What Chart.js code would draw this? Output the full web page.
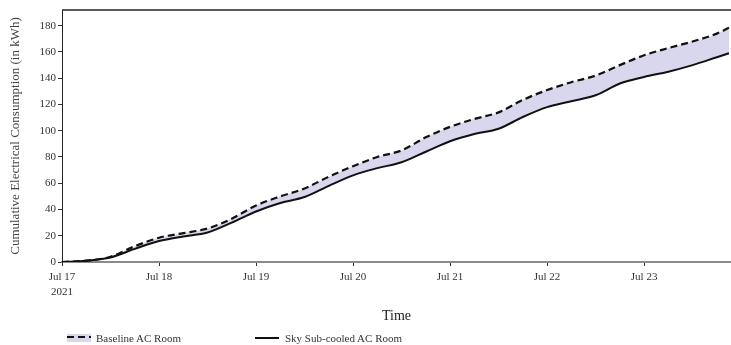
<!DOCTYPE html>
<html>
<head>
<meta charset="utf-8">
<script src="https://cdn.jsdelivr.net/npm/chart.js@4.4.1/dist/chart.umd.min.js"></script>
<style>
  html, body { margin: 0; padding: 0; background: #fff; }
  #wrap { position: relative; width: 731px; height: 345px; }
  #legend { position: absolute; left: 0; top: 330px; font: 11px "Liberation Serif", "DejaVu Serif", serif; color: #333; }
  .item { position: absolute; top: 0; white-space: nowrap; line-height: 16px; }
  .sym { position: absolute; top: 4px; width: 24px; height: 8px; }
</style>
</head>
<body>
<div id="wrap">
  <canvas id="chart" width="731" height="345"></canvas>
  <div id="legend">
    <div class="item" style="left:67px">
      <canvas class="sym" id="symBase" width="24" height="8"></canvas>
      <span style="position:absolute;left:29px">Baseline AC Room</span>
    </div>
    <div class="item" style="left:255px">
      <canvas class="sym" id="symSky" width="26" height="8"></canvas>
      <span style="position:absolute;left:30px">Sky Sub-cooled AC Room</span>
    </div>
  </div>
</div>
<script>
// hours since Jul 17 00:00
const hours = [0, 6, 12, 18, 24, 30, 36, 42, 48, 54, 60, 66, 72, 78, 84, 90, 96, 102, 108, 114, 120, 126, 132, 138, 144, 150, 156, 162, 165];
const baseline = [0, 1, 4, 12, 18.5, 22, 25.5, 33, 43, 50, 56, 65, 73, 80, 85, 95, 103, 109, 114, 123.5, 131, 137, 142, 150, 157.5, 163, 168, 174, 178.5];
const skyCooled = [0, 1, 3.5, 10, 16, 19.5, 22.5, 30, 38.5, 45, 49.5, 58, 66, 71.5, 76, 84, 92, 97.5, 101.5, 110.5, 118, 122.5, 127, 136, 141, 145, 150, 156, 159];
const dayLabels = ['Jul 17', 'Jul 18', 'Jul 19', 'Jul 20', 'Jul 21', 'Jul 22', 'Jul 23'];

const serif = '"Liberation Serif", "DejaVu Serif", serif';
const bandColor = '#d9d7ed';

const topBorder = {
  id: 'topBorder',
  afterDraw(chart) {
    const { ctx, chartArea } = chart;
    ctx.save();
    ctx.strokeStyle = '#222';
    ctx.lineWidth = 1.5;
    ctx.beginPath();
    ctx.moveTo(chartArea.left, chartArea.top);
    ctx.lineTo(chartArea.right, chartArea.top);
    ctx.stroke();
    ctx.restore();
  }
};

new Chart(document.getElementById('chart'), {
  type: 'line',
  data: {
    datasets: [
      {
        label: 'Baseline AC Room',
        data: hours.map((h, i) => ({ x: h, y: baseline[i] })),
        borderColor: '#111',
        borderWidth: 2.2,
        borderDash: [7, 4],
        backgroundColor: bandColor,
        fill: '+1',
        pointRadius: 0,
        cubicInterpolationMode: 'monotone'
      },
      {
        label: 'Sky Sub-cooled AC Room',
        data: hours.map((h, i) => ({ x: h, y: skyCooled[i] })),
        borderColor: '#111',
        borderWidth: 2,
        fill: false,
        pointRadius: 0,
        cubicInterpolationMode: 'monotone'
      }
    ]
  },
  options: {
    responsive: false,
    animation: false,
    layout: { padding: { top: 10, right: 0, bottom: 18, left: 0 } },
    plugins: {
      legend: { display: false },
      tooltip: { enabled: false },
      filler: { drawTime: 'beforeDatasetsDraw' }
    },
    scales: {
      x: {
        type: 'linear',
        min: 0,
        max: 165.5,
        afterBuildTicks: s => { s.ticks = s.ticks.filter(t => t.value % 24 === 0); },
        afterFit: s => { s.height = 65; },
        ticks: {
          stepSize: 24,
          padding: 3,
          maxRotation: 0,
          color: '#333',
          font: { family: serif, size: 11, lineHeight: 1.4 },
          callback: v => v === 0 ? [dayLabels[0], '2021'] : dayLabels[v / 24]
        },
        grid: { drawOnChartArea: false, tickLength: 4, color: '#333' },
        border: { color: '#8a8a8a', width: 2 },
        title: { display: true, text: 'Time', color: '#222', font: { family: serif, size: 14 }, padding: { top: 0, bottom: 2 } }
      },
      y: {
        min: 0,
        max: 192,
        afterBuildTicks: s => { s.ticks = s.ticks.filter(t => t.value % 20 === 0); },
        afterFit: s => { s.width = 62; },
        ticks: { stepSize: 20, padding: 2, color: '#333', font: { family: serif, size: 11 } },
        grid: { drawOnChartArea: false, tickLength: 4, color: '#333' },
        border: { color: '#222', width: 1 },
        title: { display: true, text: 'Cumulative Electrical Consumption (in kWh)', color: '#444', font: { family: serif, size: 13 }, padding: { top: 8, bottom: 0 } }
      }
    }
  },
  plugins: [topBorder]
});

// legend symbols
const b = document.getElementById('symBase').getContext('2d');
b.fillStyle = bandColor;
b.fillRect(0, 0, 24, 8);
b.strokeStyle = '#111';
b.lineWidth = 2.2;
b.setLineDash([7, 4]);
b.beginPath(); b.moveTo(0, 3); b.lineTo(24, 3); b.stroke();
const s = document.getElementById('symSky').getContext('2d');
s.strokeStyle = '#111';
s.lineWidth = 2;
s.beginPath(); s.moveTo(0, 4); s.lineTo(26, 4); s.stroke();
</script>
</body>
</html>
